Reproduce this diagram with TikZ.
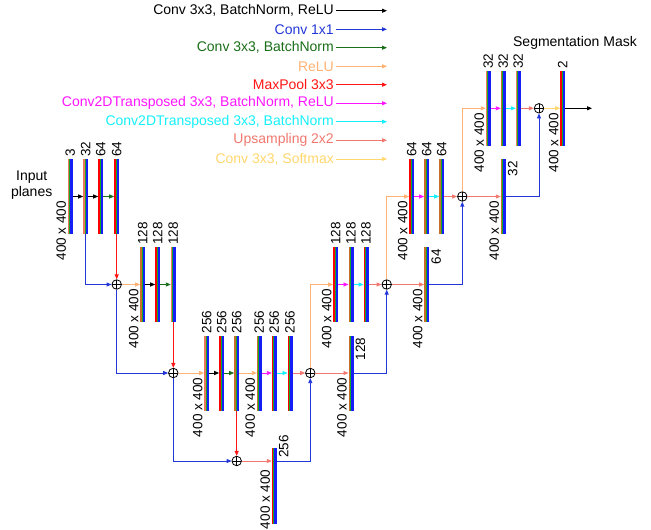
\documentclass[tikz,border=0pt]{standalone}
\usepackage{fontspec}
\setmainfont{Liberation Sans}
\usetikzlibrary{arrows.meta,calc}
\definecolor{cblue}{RGB}{35,55,215}
\definecolor{cblk}{RGB}{0,0,0}
\definecolor{cgreen}{RGB}{25,110,25}
\definecolor{crelu}{RGB}{255,178,115}
\definecolor{cred}{RGB}{255,20,20}
\definecolor{cmag}{RGB}{255,20,255}
\definecolor{ccyan}{RGB}{20,240,250}
\definecolor{cup}{RGB}{240,120,110}
\definecolor{csoft}{RGB}{255,215,110}
\definecolor{fgreen}{RGB}{20,170,40}
\definecolor{fblue}{RGB}{20,30,245}
\definecolor{fsal}{RGB}{240,120,90}
\definecolor{forg}{RGB}{200,110,40}
\tikzset{
  conn/.style={line width=0.9pt, -{Triangle[length=5pt,width=4pt]}},
  plain/.style={line width=0.9pt},
  fmap/.style={minimum width=5pt, minimum height=75pt, inner sep=0pt, outer sep=0pt, fill=fblue,
    path picture={
      \fill[#1] (path picture bounding box.south west) rectangle ([xshift=1.3pt]path picture bounding box.north west);
      \fill[fgreen] ([xshift=1.3pt]path picture bounding box.south west) rectangle ([xshift=2.4pt]path picture bounding box.north west);
    }},
  fmap/.default=red,
  lbl/.style={font=\fontsize{13.5}{15}\selectfont},
  chl/.style={lbl, rotate=90, anchor=west, inner sep=2pt},
  chr/.style={lbl, rotate=90, anchor=north east, inner sep=2pt},
  diml/.style={lbl, rotate=90, anchor=south east, inner sep=1.5pt},
  csum/.style={circle, draw, line width=0.8pt, minimum size=9.5pt, inner sep=0pt, fill=white,
    path picture={\draw[line width=0.7pt] (path picture bounding box.north) -- (path picture bounding box.south)
      (path picture bounding box.west) -- (path picture bounding box.east);}},
  leg/.style={font=\fontsize{14}{16}\selectfont, anchor=east, inner sep=2pt},
}
\newcommand{\fmc}[5]{% name, x, y, colour, channels (label above)
  \node[fmap=#4] (#1) at (#2,#3) {};
  \node[chl] (#1-ch) at (#1.north) {#5};}
\newcommand{\fms}[5]{% name, x, y, colour, channels (label at right)
  \node[fmap=#4] (#1) at (#2,#3) {};
  \node[chr] (#1-ch) at (#1.north east) {#5};}
\newcommand{\dimof}[1]{\node[diml] (#1-dim) at ([yshift=-3pt]#1.west) {400 x 400};}
\begin{document}
\begin{tikzpicture}[x=1pt,y=-1pt]
\useasboundingbox (0,0) rectangle (651,530);
\def\Lz{108.3}\def\La{196.5}\def\Lb{284.5}\def\Lc{373}\def\Ld{461}
% ---------------- legend
\coordinate (lgend) at (387,0);
\foreach \n/\yy/\cc/\tt in {1/10.7/cblk/{Conv 3x3, BatchNorm, ReLU},
  2/29.3/cblue/{Conv 1x1},
  3/47.7/cgreen/{Conv 3x3, BatchNorm},
  4/66.3/crelu/{ReLU},
  5/84.7/cred/{MaxPool 3x3},
  6/103.3/cmag/{Conv2DTransposed 3x3, BatchNorm, ReLU},
  7/121.7/ccyan/{Conv2DTransposed 3x3, BatchNorm},
  8/140.3/cup/{Upsampling 2x2},
  9/159/csoft/{Conv 3x3, Softmax}}{
  \node[leg, text=\cc] (lg\n) at (336,\yy) {\tt};
  \draw[conn, \cc] (lg\n.east) -- (lg\n.east -| lgend);
}
% ---------------- texts
\node[font=\fontsize{14}{16.7}\selectfont, align=center] (inp) at (31.7,185) {Input\\planes};
\node[font=\fontsize{14}{16}\selectfont] (seg) at (575,43) {Segmentation Mask};
% ---------------- encoder
\fmc{a1}{70.3}{\La}{fsal}{3}\dimof{a1}
\fmc{a2}{85.7}{\La}{fsal}{32}
\fmc{a3}{100.7}{\La}{red}{64}
\fmc{a4}{116.7}{\La}{red}{64}
\node[csum] (s1) at (116.7,\Lb) {};
\fmc{b1}{142.7}{\Lb}{forg}{128}\dimof{b1}
\fmc{b2}{157.7}{\Lb}{red}{128}
\fmc{b3}{173.3}{\Lb}{fsal}{128}
\node[csum] (s2) at (173.3,\Lc) {};
\fmc{c1}{206.7}{\Lc}{fsal}{256}\dimof{c1}
\fmc{c2}{221.7}{\Lc}{red}{256}
\fmc{c3}{236.7}{\Lc}{forg}{256}
\fmc{c4}{259.3}{\Lc}{forg}{256}\dimof{c4}
\fmc{c5}{274.3}{\Lc}{red}{256}
\fmc{c6}{290}{\Lc}{red}{256}
\node[csum] (s3) at (310.3,\Lc) {};
\node[csum] (s4) at (236.7,\Ld) {};
\node[fmap=red, minimum height=76pt] (d1) at (274.3,486) {};
\node[chr] (d1-ch) at ([yshift=15pt]d1.north east) {256};
\node[diml] (d1-dim) at ([yshift=-7pt]d1.west |- s4) {400 x 400};
% ---------------- decoder
\fmc{e1}{335.7}{\Lb}{red}{128}\dimof{e1}
\fmc{e2}{351}{\Lb}{forg}{128}
\fmc{e3}{366}{\Lb}{red}{128}
\node[csum] (s5) at (386.7,\Lb) {};
\fms{f1}{351}{\Lc}{forg}{128}\dimof{f1}
\fmc{g1}{411.7}{\La}{red}{64}\dimof{g1}
\fmc{g2}{426.7}{\La}{forg}{64}
\fmc{g3}{441.7}{\La}{forg}{64}
\node[csum] (s6) at (462.3,\La) {};
\fms{h1}{426.7}{\Lb}{forg}{64}\dimof{h1}
\fmc{i1}{488.3}{\Lz}{fsal}{32}\dimof{i1}
\fmc{i2}{503.3}{\Lz}{forg}{32}
\fmc{i3}{518.3}{\Lz}{fsal}{32}
\node[csum] (s7) at (539,\Lz) {};
\fms{j1}{503.3}{\La}{forg}{32}\dimof{j1}
\fmc{k1}{562.7}{\Lz}{red}{2}\dimof{k1}
\coordinate (out) at (592,\Lz);
% ---------------- connectors, encoder
\draw[conn, cblk] (a1.east) -- (a2.west);
\draw[conn, cblk] (a2.east) -- (a3.west);
\draw[conn, cgreen] (a3.east) -- (a4.west);
\draw[conn, cblue] (a2.south) |- (s1.west);
\draw[conn, cred] (a4.south) -- (s1.north);
\draw[conn, crelu] (s1.east) -- (b1.west);
\draw[conn, cblk] (b1.east) -- (b2.west);
\draw[conn, cgreen] (b2.east) -- (b3.west);
\draw[conn, cblue] (s1.south) |- (s2.west);
\draw[conn, cred] (b3.south) -- (s2.north);
\draw[conn, crelu] (s2.east) -- (c1.west);
\draw[conn, cblk] (c1.east) -- (c2.west);
\draw[conn, cgreen] (c2.east) -- (c3.west);
\draw[conn, crelu] (c3.east) -- (c4.west);
\draw[conn, cmag] (c4.east) -- (c5.west);
\draw[conn, ccyan] (c5.east) -- (c6.west);
\draw[conn, cup] (c6.east) -- (s3.west);
\draw[conn, cblue] (s2.south) |- (s4.west);
\draw[conn, cred] (c3.south) -- (s4.north);
\draw[conn, cup] (s4.east) -- (s4.east -| d1.west);
\draw[conn, cblue] (s4.east -| d1.east) -| (s3.south);
% ---------------- connectors, decoder
\draw[conn, crelu] (s3.north) |- (e1.west);
\draw[conn, cup] (s3.east) -- (f1.west);
\draw[conn, cmag] (e1.east) -- (e2.west);
\draw[conn, ccyan] (e2.east) -- (e3.west);
\draw[conn, cup] (e3.east) -- (s5.west);
\draw[conn, cblue] (f1.east) -| (s5.south);
\draw[conn, crelu] (s5.north) |- (g1.west);
\draw[conn, cup] (s5.east) -- (h1.west);
\draw[conn, cmag] (g1.east) -- (g2.west);
\draw[conn, ccyan] (g2.east) -- (g3.west);
\draw[conn, cup] (g3.east) -- (s6.west);
\draw[conn, cblue] (h1.east) -| (s6.south);
\draw[conn, crelu] (s6.north) |- (i1.west);
\draw[conn, cup] (s6.east) -- (j1.west);
\draw[conn, cmag] (i1.east) -- (i2.west);
\draw[conn, ccyan] (i2.east) -- (i3.west);
\draw[conn, cup] (i3.east) -- (s7.west);
\draw[conn, cblue] (j1.east) -| (s7.south);
\draw[conn, csoft] (s7.east) -- (k1.west);
\draw[conn, cblk] (k1.east) -- (out);
\end{tikzpicture}
\end{document}
